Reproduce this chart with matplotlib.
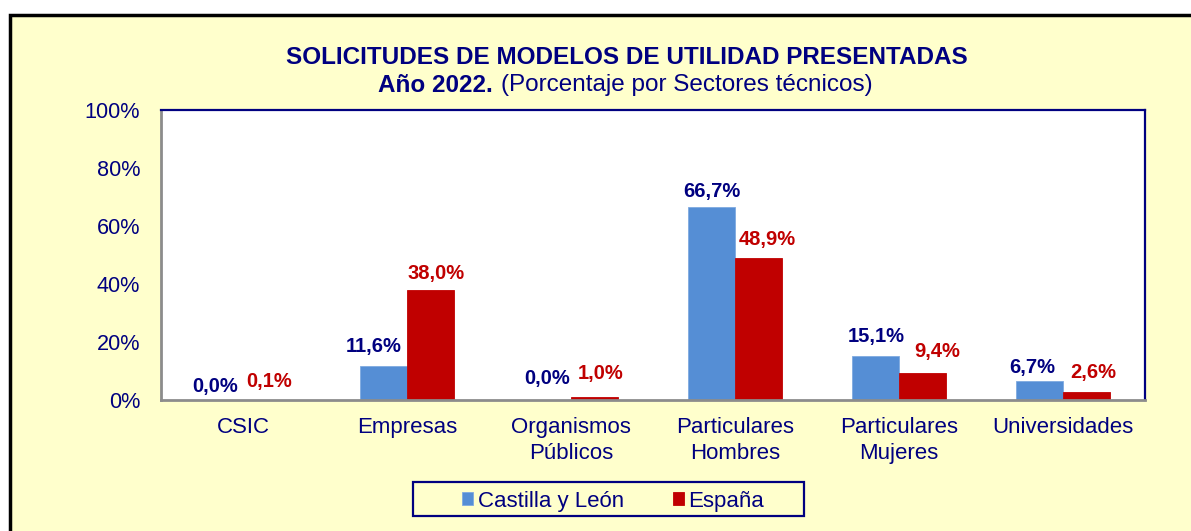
import numpy as np
import matplotlib
matplotlib.use('Agg')
import matplotlib.pyplot as plt
from matplotlib.patches import Rectangle

# --- DATA --------------------------------------------------------------------
categories = ["CSIC", "Empresas", "Organismos\nPúblicos", "Particulares\nHombres",
              "Particulares\nMujeres", "Universidades"]
castilla_leon = [0.0, 11.6, 0.0, 66.7, 15.1, 6.7]
espana = [0.1, 38.0, 1.0, 48.9, 9.4, 2.6]
series_names = ["Castilla y León", "España"]
y_ticks = [0, 20, 40, 60, 80, 100]

# --- STYLE -------------------------------------------------------------------
NAVY = '#000080'
RED = '#C00000'
BLUE = '#558ED5'
BG = '#FFFFCC'
plt.rcParams['font.family'] = ['Liberation Sans', 'DejaVu Sans']

# label nudges in pixels (dx, baseline gap above bar), as placed in the original
NUDGE_CL = [(-4, 8), (-9.5, 14), (0, 16), (0, 10), (1, 14), (-7, 8)]
NUDGE_ES = [(3, 13), (6, 11), (6.5, 18), (8.5, 13), (14.5, 16), (6.5, 14)]
PX = 0.72  # pixels -> points at dpi 100

W, H = 1191, 531
fig = plt.figure(figsize=(W / 100, H / 100), dpi=100)
fig.patch.set_facecolor('white')

# yellow chart area with black frame (cut by the image edge on right/bottom)
fig.patches.append(Rectangle((9.5 / W, -0.1), 1.2, 1 - 14.5 / H + 0.1,
                             transform=fig.transFigure, facecolor=BG,
                             edgecolor='black', linewidth=2.5, zorder=-5))

ax = fig.add_axes([161 / W, 1 - 400 / H, (1145 - 161) / W, (400 - 110) / H])
ax.set_facecolor('white')

x = np.arange(len(categories))
bw = 1 / 3.5
b1 = ax.bar(x - bw / 2, castilla_leon, bw, color=BLUE, edgecolor='#7FAAE0',
            linewidth=0.6, label=series_names[0], zorder=2)
b2 = ax.bar(x + bw / 2, espana, bw, color=RED, edgecolor=RED,
            linewidth=0.6, label=series_names[1], zorder=2)

for bars, vals, col, nudges in ((b1, castilla_leon, NAVY, NUDGE_CL),
                                (b2, espana, RED, NUDGE_ES)):
    for rect, v, (dx, dy) in zip(bars, vals, nudges):
        ax.annotate(f"{v:.1f}%".replace('.', ','),
                    xy=(rect.get_x() + rect.get_width() / 2, rect.get_height()),
                    xytext=(dx * PX, dy * PX), textcoords='offset points',
                    ha='center', va='baseline', color=col,
                    fontsize=14.5, fontweight='bold')

ax.set_xlim(-0.5, len(categories) - 0.5)
ax.set_ylim(0, 100)
ax.set_yticks(y_ticks)
ax.set_yticklabels([f"{t}%" for t in y_ticks])
ax.set_xticks(x)
ax.set_xticklabels(categories, linespacing=1.3)
ax.tick_params(axis='y', length=0, pad=15, labelsize=15.6, labelcolor=NAVY)
ax.tick_params(axis='x', length=0, pad=12.5, labelsize=16, labelcolor=NAVY)

for side in ('top', 'right'):
    ax.spines[side].set_color(NAVY)
    ax.spines[side].set_linewidth(1.6)
for side in ('left', 'bottom'):
    ax.spines[side].set_color('#8C8C8C')
    ax.spines[side].set_linewidth(2)

# --- TITLE -------------------------------------------------------------------
fig.text(627 / W, 1 - 57 / H, "SOLICITUDES DE MODELOS DE UTILIDAD PRESENTADAS",
         ha='center', va='center', color=NAVY, fontsize=17.5, fontweight='bold')
fig.text(493 / W, 1 - 85 / H, "Año 2022.", ha='right', va='center',
         color=NAVY, fontsize=17.5, fontweight='bold')
fig.text(501 / W, 1 - 85 / H, "(Porcentaje por Sectores técnicos)", ha='left',
         va='center', color=NAVY, fontsize=17.5)

# --- LEGEND ------------------------------------------------------------------
fig.patches.append(Rectangle((413 / W, 1 - 516 / H), (804 - 413) / W, 34 / H,
                             transform=fig.transFigure, facecolor='none',
                             edgecolor=NAVY, linewidth=1.6, zorder=3))
fig.legend(handles=[b1, b2], labels=series_names, loc='center',
           bbox_to_anchor=(613 / W, 1 - 501 / H), ncol=2, frameon=False,
           fontsize=16, labelcolor=NAVY, handlelength=0.5, handleheight=0.5,
           handletextpad=0.2, columnspacing=2.2)

fig.savefig('out.png', dpi=100)
